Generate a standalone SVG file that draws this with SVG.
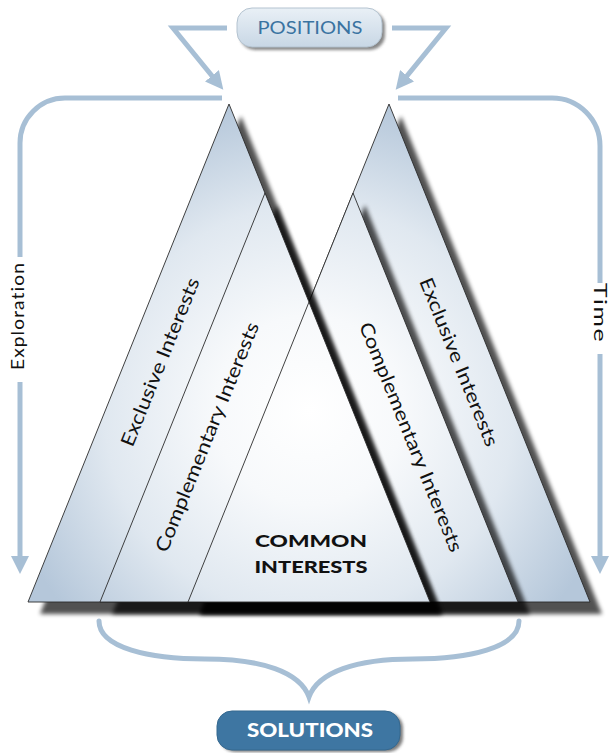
<svg xmlns="http://www.w3.org/2000/svg" width="610" height="753" viewBox="0 0 610 753">
  <style>
    .tri { fill: url(#glow); stroke: #2b2b2b; stroke-width: 0.9; stroke-linejoin: miter; }
    .shadow { fill: #000; opacity: 0.68; filter: url(#soft); }
    .flow { fill: none; stroke: #a7bfd5; stroke-width: 5; }
    .label { font-family: Lato, "Open Sans", "Liberation Sans", sans-serif; font-size: 19px; fill: #111; }
    .side { font-family: Lato, "Open Sans", "Liberation Sans", sans-serif; font-size: 17px; fill: #111; letter-spacing: 1px; }
  </style>
  <defs>
    <radialGradient id="glow" gradientUnits="userSpaceOnUse" cx="309" cy="410" r="315">
      <stop offset="0" stop-color="#ffffff"/>
      <stop offset="0.3" stop-color="#f7f9fb"/>
      <stop offset="0.65" stop-color="#e0e8f0"/>
      <stop offset="1" stop-color="#b5c7da"/>
    </radialGradient>
    <linearGradient id="pill" x1="0" y1="0" x2="0" y2="1">
      <stop offset="0" stop-color="#e9f0f6"/>
      <stop offset="1" stop-color="#c8d7e5"/>
    </linearGradient>
    <filter id="soft" x="-10%" y="-10%" width="120%" height="120%">
      <feGaussianBlur stdDeviation="2.2"/>
    </filter>
    <filter id="drop" x="-10%" y="-30%" width="120%" height="160%">
      <feGaussianBlur stdDeviation="1.5"/>
    </filter>
    <marker id="head" viewBox="0 0 18 18" refX="8" refY="9" markerWidth="18" markerHeight="18" markerUnits="userSpaceOnUse" orient="auto">
      <path d="M0,0 L18,9 L0,18 z" fill="#a7bfd5"/>
    </marker>
    <polygon id="t1" points="229,104 28,602 430,602"/>
    <polygon id="t2" points="265,193 100,602 430,602"/>
    <polygon id="t3" points="353,193 188,602 518,602"/>
    <polygon id="t4" points="389,104 188,602 590,602"/>
  </defs>

  <rect width="610" height="753" fill="#ffffff"/>

  <!-- connectors -->
  <g id="connectors">
    <path class="flow" d="M227,28 H173 L217,82" marker-end="url(#head)"/>
    <path class="flow" d="M392,28 H446 L402,82" marker-end="url(#head)"/>
    <path class="flow" d="M222,98 H65 A45,45 0 0 0 20,143 V257"/>
    <path class="flow" d="M20,382 V564" marker-end="url(#head)"/>
    <path class="flow" d="M398,98 H552 A48,48 0 0 1 600,146 V283"/>
    <path class="flow" d="M600,354 V564" marker-end="url(#head)"/>
    <path class="flow" stroke-linecap="round" d="M99,621 C99,648 150,659 205,659 C262,659 300,672 309,697 C318,672 356,659 413,659 C468,659 519,648 519,621"/>
  </g>

  <!-- right mountain: exclusive interests -->
  <g id="right-exclusive">
    <use href="#t4" class="shadow" transform="translate(12,12)"/>
    <use href="#t4" class="tri"/>
  </g>
  <!-- right mountain: complementary interests -->
  <g id="right-complementary">
    <use href="#t3" class="shadow" transform="translate(12,12)"/>
    <use href="#t3" class="tri"/>
  </g>
  <!-- left mountain: exclusive interests -->
  <g id="left-exclusive">
    <use href="#t1" class="shadow" transform="translate(12,12)"/>
    <use href="#t1" class="tri"/>
  </g>
  <!-- left mountain: complementary interests, holding the common core -->
  <g id="left-complementary">
    <use href="#t2" class="shadow" transform="translate(12,12)"/>
    <use href="#t2" class="tri"/>
    <line x1="309" y1="302" x2="188" y2="602" stroke="#2b2b2b" stroke-width="0.9"/>
  </g>

  <!-- labels -->
  <g id="labels">
    <text class="label" transform="translate(160,362) rotate(-68)" text-anchor="middle" dy="0.35em" textLength="180" lengthAdjust="spacingAndGlyphs">Exclusive Interests</text>
    <text class="label" transform="translate(207,437) rotate(-68)" text-anchor="middle" dy="0.35em" textLength="246" lengthAdjust="spacingAndGlyphs">Complementary Interests</text>
    <text class="label" transform="translate(411,437) rotate(68)" text-anchor="middle" dy="0.35em" textLength="246" lengthAdjust="spacingAndGlyphs">Complementary Interests</text>
    <text class="label" transform="translate(459,362) rotate(68)" text-anchor="middle" dy="0.35em" textLength="180" lengthAdjust="spacingAndGlyphs">Exclusive Interests</text>
    <g id="common" font-family="Lato, 'Open Sans', 'Liberation Sans', sans-serif" font-weight="900" font-size="17.5" fill="#111" text-anchor="middle">
      <text x="311" y="547" textLength="112" lengthAdjust="spacingAndGlyphs">COMMON</text>
      <text x="311" y="573" textLength="113" lengthAdjust="spacingAndGlyphs">INTERESTS</text>
    </g>
    <text class="side" transform="translate(18,316) rotate(-90)" text-anchor="middle" dy="0.35em" textLength="108" lengthAdjust="spacingAndGlyphs">Exploration</text>
    <text class="side" transform="translate(600,313) rotate(90)" text-anchor="middle" dy="0.35em" textLength="60" lengthAdjust="spacingAndGlyphs">Time</text>
  </g>

  <!-- positions -->
  <g id="positions">
    <rect x="240" y="11" width="145" height="39" rx="15" fill="#555" opacity="0.7" filter="url(#drop)"/>
    <rect x="237" y="8" width="145" height="39" rx="15" fill="url(#pill)" stroke="#b4c3d0" stroke-width="1"/>
    <text x="310" y="34" text-anchor="middle" font-family="Lato, 'Open Sans', 'Liberation Sans', sans-serif" font-size="18" fill="#3a73a1" textLength="105" lengthAdjust="spacingAndGlyphs">POSITIONS</text>
  </g>

  <!-- solutions -->
  <g id="solutions">
    <rect x="220" y="713" width="183" height="39" rx="15" fill="#444" opacity="0.7" filter="url(#drop)"/>
    <rect x="217" y="711" width="183" height="39" rx="15" fill="#3e76a2" stroke="#35688f" stroke-width="1"/>
    <text x="310" y="737" text-anchor="middle" font-family="Lato, 'Open Sans', 'Liberation Sans', sans-serif" font-weight="900" font-size="19" fill="#ffffff" textLength="126" lengthAdjust="spacingAndGlyphs">SOLUTIONS</text>
  </g>
</svg>
